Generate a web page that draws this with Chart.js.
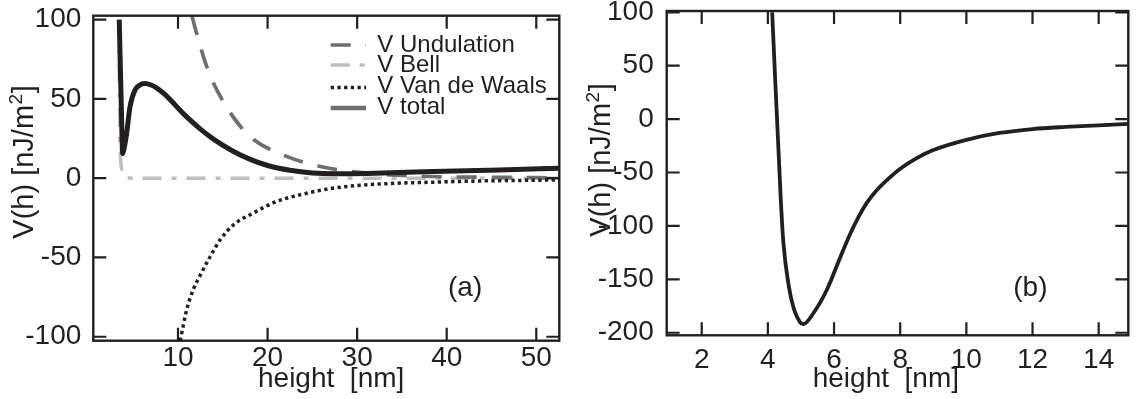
<!DOCTYPE html>
<html>
<head>
<meta charset="utf-8">
<title>Interaction potential</title>
<script src="https://cdn.jsdelivr.net/npm/chart.js@4.4.1/dist/chart.umd.min.js"></script>
<style>
  html, body { margin: 0; padding: 0; background: #ffffff; }
  #wrap { position: relative; width: 1137px; height: 399px; }
  canvas { position: absolute; top: 0; }
  #chart-a { left: 0; }
  #chart-b { left: 570px; }
</style>
</head>
<body>
<div id="wrap">
  <canvas id="chart-a" width="570" height="399"></canvas>
  <canvas id="chart-b" width="567" height="399"></canvas>
</div>
<script>
// =============================================
// Membrane potential V(h) – panels (a) and (b)
// =============================================

// ── Panel (a): contributions, height [nm] vs V [nJ/m²] ──
const undulationH = [11.55, 12.0, 13.3, 15.3, 18.0, 21.7, 26.3, 31.4, 35.9, 40.4, 45.0, 50.0, 52.6];
const undulationV = [102.5, 93, 69, 46, 26.5, 14.7, 6.9, 3.1, 1.5, 0.8, 0.6, 0.3, 0.2];

const bellH = [3.4, 3.5, 3.6, 3.75, 3.95, 4.2, 4.6, 5.2, 52.6];
const bellV = [100, 30, 11.5, 5, 1.6, 0.4, 0.1, 0, 0];

const vdwH = [10.25, 10.97, 11.7, 12.5, 13.6, 14.7, 16.2, 18.4, 21.0, 23.6, 27.3, 31.0, 34.8, 38.5, 44.1, 51.9, 52.6];
const vdwV = [-102.5, -83, -70.3, -61, -49.4, -38.9, -29.4, -22, -14.7, -10.5, -6.3, -4.2, -3.1, -2.5, -1.7, -1.1, -1.0];

const totalH = [3.44, 3.5, 3.6, 3.7, 3.82, 3.95, 4.27, 4.64, 5.2, 5.95, 6.3, 7.0, 7.6, 8.5, 9.3, 10.2, 11.0, 12.5, 14.0, 16.0, 18.0, 20.0, 22.5, 25.0, 27.5, 31.1, 38.5, 45.9, 52.6];
const totalV = [100, 85, 62, 38, 15.5, 18, 28.4, 45, 55.6, 59.4, 59.8, 58.8, 57, 53, 48.5, 43, 38.5, 31, 24.5, 17.5, 12, 8, 5, 3.3, 2.8, 3.0, 4.2, 5.2, 6.3];

const ticksAX = [10, 20, 30, 40, 50];
const ticksAY = [-100, -50, 0, 50, 100];

// ── Panel (b): total potential, zoomed ──
const zoomH = [4.13, 4.39, 4.47, 4.62, 4.77, 4.97, 5.07, 5.37, 5.78, 6.18, 6.48, 6.75, 7.0, 7.25, 7.5, 8.0, 8.5, 9.0, 10.0, 11.0, 12.0, 13.0, 14.0, 14.9];
const zoomV = [100, -75, -116, -154, -176, -190, -192, -182, -160, -130, -108, -91, -78, -68, -60, -46.5, -36.5, -29, -19.4, -13, -9.3, -7.3, -5.8, -4.4];

const ticksBX = [2, 4, 6, 8, 10, 12, 14];
const ticksBY = [-200, -150, -100, -50, 0, 50, 100];

const INK = "#231f20";
const FONT = "'Liberation Sans', Arial, Helvetica, sans-serif";
const TICK = 13;

const pts = (xs, ys) => xs.map((x, i) => ({ x, y: ys[i] }));

// frame box, inward ticks on all sides, axis titles, panel tag, legend
const framePlugin = {
  id: "frame",
  afterDraw(chart, args, opts) {
    const { ctx, chartArea: a, scales } = chart;
    ctx.save();
    ctx.strokeStyle = INK;
    ctx.lineWidth = 2.4;
    ctx.setLineDash([]);
    ctx.strokeRect(a.left, a.top, a.right - a.left, a.bottom - a.top);

    ctx.lineWidth = 2.2;
    ctx.beginPath();
    scales.x.ticks.forEach(t => {
      const px = scales.x.getPixelForValue(t.value);
      ctx.moveTo(px, a.bottom); ctx.lineTo(px, a.bottom - TICK);
      ctx.moveTo(px, a.top); ctx.lineTo(px, a.top + TICK);
    });
    scales.y.ticks.forEach(t => {
      const py = scales.y.getPixelForValue(t.value);
      ctx.moveTo(a.left, py); ctx.lineTo(a.left + TICK, py);
      ctx.moveTo(a.right, py); ctx.lineTo(a.right - TICK, py);
    });
    ctx.stroke();

    ctx.fillStyle = INK;
    ctx.textBaseline = "alphabetic";

    // x title
    ctx.font = `28px ${FONT}`;
    ctx.textAlign = "left";
    ctx.fillText("height  [nm]", opts.xTitle[0], opts.xTitle[1]);

    // panel tag
    ctx.fillText(opts.tag[0], opts.tag[1], opts.tag[2]);

    // rotated y title with superscript
    const big = `29px ${FONT}`, small = `19px ${FONT}`;
    ctx.font = big;
    const w1 = ctx.measureText("V(h) [nJ/m").width;
    const w3 = ctx.measureText("]").width;
    ctx.font = small;
    const w2 = ctx.measureText("2").width;
    const start = -(w1 + w2 + w3) / 2;
    ctx.translate(opts.yTitle[0], opts.yTitle[1]);
    ctx.rotate(-Math.PI / 2);
    ctx.font = big;
    ctx.fillText("V(h) [nJ/m", start, 0);
    ctx.font = small;
    ctx.fillText("2", start + w1 + 0.5, -11);
    ctx.font = big;
    ctx.fillText("]", start + w1 + w2 + 1, 0);
    ctx.setTransform(1, 0, 0, 1, 0, 0);

    // legend
    if (opts.legend) {
      const L = opts.legend;
      ctx.font = `24px ${FONT}`;
      chart.data.datasets.forEach(ds => {
        const row = L.rows[ds.label];
        if (!row) return;
        ctx.beginPath();
        ctx.strokeStyle = ds.legendColor || ds.borderColor;
        ctx.lineWidth = ds.legendWidth || ds.borderWidth;
        ctx.setLineDash(ds.borderDash || []);
        ctx.moveTo(L.x0, row.line);
        ctx.lineTo(L.x1, row.line);
        ctx.stroke();
        ctx.fillText(ds.label, L.tx, row.text);
      });
      ctx.setLineDash([]);
    }
    ctx.restore();
  }
};

function axisX(min, max, ticks, height, pad) {
  return {
    type: "linear", min, max,
    grid: { display: false }, border: { display: false },
    afterBuildTicks: s => { s.ticks = ticks.map(v => ({ value: v })); },
    afterFit: s => { s.height = height; s.paddingLeft = 0; s.paddingRight = 0; },
    ticks: {
      color: INK, font: { family: FONT, size: 28 }, padding: pad,
      maxRotation: 0, autoSkip: false, callback: v => String(v)
    }
  };
}

function axisY(min, max, ticks, width, pad) {
  return {
    type: "linear", min, max,
    grid: { display: false }, border: { display: false },
    afterBuildTicks: s => { s.ticks = ticks.map(v => ({ value: v })); },
    afterFit: s => { s.width = width; s.paddingTop = 0; s.paddingBottom = 0; },
    ticks: {
      color: INK, font: { family: FONT, size: 28 }, padding: pad,
      autoSkip: false, callback: v => String(v)
    }
  };
}

const lineBase = { pointRadius: 0, cubicInterpolationMode: "monotone", clip: 0, fill: false };

new Chart(document.getElementById("chart-a"), {
  type: "line",
  data: {
    datasets: [
      { ...lineBase, label: "V total", data: pts(totalH, totalV), borderColor: INK, borderWidth: 5,
        legendColor: "#6d6e71", legendWidth: 4.5, order: 0 },
      { ...lineBase, label: "V Van de Waals", data: pts(vdwH, vdwV), borderColor: INK, borderWidth: 3.5,
        borderDash: [3.3, 3.4], order: 1 },
      { ...lineBase, label: "V Bell", data: pts(bellH, bellV), borderColor: "#bcbec0", borderWidth: 3.5,
        borderDash: [19, 10, 5, 10], order: 3 },
      { ...lineBase, label: "V Undulation", data: pts(undulationH, undulationV), borderColor: "#6d6e71", borderWidth: 3.7,
        borderDash: [20, 15], order: 2 }
    ]
  },
  options: {
    responsive: false,
    animation: false,
    layout: { padding: { left: 0, top: 15.7, right: 10.7, bottom: 0 } },
    scales: {
      x: axisX(0.544, 52.57, ticksAX, 58.3, -7),
      y: axisY(-102.5, 102.5, ticksAY, 93.3, 4)
    },
    plugins: {
      legend: { display: false },
      tooltip: { enabled: false },
      frame: {
        xTitle: [258, 387],
        yTitle: [33, 162.5],
        tag: ["(a)", 448, 296],
        legend: {
          x0: 330.7, x1: 366, tx: 377.3,
          rows: {
            "V Undulation":   { line: 45,   text: 51.7 },
            "V Bell":         { line: 65,   text: 71.7 },
            "V Van de Waals": { line: 87.5, text: 93.3 },
            "V total":        { line: 108,  text: 114 }
          }
        }
      }
    }
  },
  plugins: [framePlugin]
});

new Chart(document.getElementById("chart-b"), {
  type: "line",
  data: {
    datasets: [
      { ...lineBase, label: "V total", data: pts(zoomH, zoomV), borderColor: INK, borderWidth: 3.8 }
    ]
  },
  options: {
    responsive: false,
    animation: false,
    layout: { padding: { left: 0, top: 11, right: 8.7, bottom: 0 } },
    scales: {
      x: axisX(0.942, 14.895, ticksBX, 63.7, 0),
      y: axisY(-202.4, 101.2, ticksBY, 96.7, 5)
    },
    plugins: {
      legend: { display: false },
      tooltip: { enabled: false },
      frame: {
        xTitle: [242.7, 387],
        yTitle: [40, 160.5],
        tag: ["(b)", 443.3, 296]
      }
    }
  },
  plugins: [framePlugin]
});
</script>
</body>
</html>
